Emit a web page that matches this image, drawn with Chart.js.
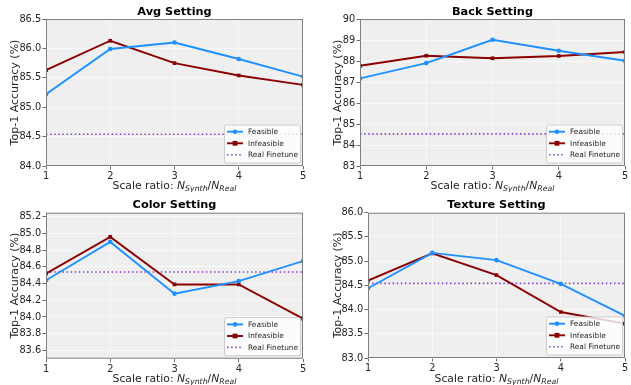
<!DOCTYPE html>
<html>
<head>
<meta charset="utf-8">
<script src="https://cdn.jsdelivr.net/npm/chart.js@4.4.0/dist/chart.umd.min.js"></script>
<style>
  html, body { margin: 0; padding: 0; background: #ffffff; }
  #wrap { position: relative; width: 631px; height: 385px; overflow: hidden; background: #ffffff; }
  canvas { position: absolute; }
</style>
</head>
<body>
<div id="wrap">
  <canvas id="c1" width="315" height="192" style="left:0px;top:0px"></canvas>
  <canvas id="c2" width="316" height="192" style="left:315px;top:0px"></canvas>
  <canvas id="c3" width="315" height="193" style="left:0px;top:192px"></canvas>
  <canvas id="c4" width="316" height="193" style="left:315px;top:192px"></canvas>
</div>
<script>
// ---------------- data ----------------
const ratios = [1, 2, 3, 4, 5];
const seriesNames = ['Feasible', 'Infeasible', 'Real Finetune'];

const avgFeasible   = [85.22, 85.99, 86.10, 85.82, 85.52];
const avgInfeasible = [85.63, 86.13, 85.75, 85.54, 85.38];
const avgReal = 84.54;
const avgTicks = [84.0, 84.5, 85.0, 85.5, 86.0, 86.5];

const backFeasible   = [87.17, 87.90, 89.01, 88.49, 88.01];
const backInfeasible = [87.77, 88.25, 88.13, 88.24, 88.43];
const backReal = 84.53;
const backTicks = [83, 84, 85, 86, 87, 88, 89, 90];

const colorFeasible   = [84.44, 84.90, 84.28, 84.43, 84.67];
const colorInfeasible = [84.52, 84.96, 84.39, 84.39, 83.98];
const colorReal = 84.54;
const colorTicks = [83.6, 83.8, 84.0, 84.2, 84.4, 84.6, 84.8, 85.0, 85.2];

const textureFeasible   = [84.44, 85.17, 85.02, 84.53, 83.87];
const textureInfeasible = [84.60, 85.16, 84.71, 83.95, 83.71];
const textureReal = 84.54;
const textureTicks = [83.0, 83.5, 84.0, 84.5, 85.0, 85.5, 86.0];

// ---------------- style ----------------
const FONT = "'DejaVu Sans', 'Liberation Sans', sans-serif";
const C_FEAS = '#1e90ff';
const C_INF = '#8b0000';
const C_REAL = '#8a3fd1';
const C_SPINE = '#7f7f7f';
const C_TEXT = '#262626';

function pts(arr) { return ratios.map((x, i) => ({ x: x, y: arr[i] })); }

function drawXLabel(ctx, cx, baseline) {
  const parts = [
    { t: 'Scale ratio: ', f: '10.8px ' + FONT, dy: 0 },
    { t: 'N', f: 'italic 10.8px ' + FONT, dy: 0 },
    { t: 'Synth', f: 'italic 7.8px ' + FONT, dy: 2.4 },
    { t: '/', f: '10.8px ' + FONT, dy: 0 },
    { t: 'N', f: 'italic 10.8px ' + FONT, dy: 0 },
    { t: 'Real', f: 'italic 7.8px ' + FONT, dy: 2.4 }
  ];
  let total = 0;
  parts.forEach(p => { ctx.font = p.f; p.w = ctx.measureText(p.t).width; total += p.w; });
  let x = cx - total / 2;
  ctx.fillStyle = C_TEXT;
  ctx.textAlign = 'left';
  ctx.textBaseline = 'alphabetic';
  parts.forEach(p => { ctx.font = p.f; ctx.fillText(p.t, x, baseline + p.dy); x += p.w; });
}

function makeDecor(title, ylabelX, titleY, xlabelBase) {
  return {
    id: 'decor',
    beforeDraw(chart) {
      const a = chart.chartArea, ctx = chart.ctx;
      ctx.save();
      ctx.fillStyle = '#efefef';
      ctx.fillRect(a.left, a.top, a.right - a.left, a.bottom - a.top);
      ctx.restore();
    },
    afterDatasetsDraw(chart) {
      const a = chart.chartArea, ctx = chart.ctx;
      ctx.save();
      // spines
      ctx.strokeStyle = C_SPINE;
      ctx.lineWidth = 1;
      ctx.strokeRect(a.left + 0.5, a.top + 0.5, a.right - a.left - 1, a.bottom - a.top - 1);
      // legend
      const w = 76, h = 38;
      const bx = a.right - 3 - w, by = a.bottom - 3.5 - h;
      ctx.fillStyle = 'rgba(255,255,255,0.8)';
      ctx.strokeStyle = '#cccccc';
      ctx.lineWidth = 1;
      ctx.beginPath();
      if (ctx.roundRect) ctx.roundRect(bx + 0.5, by + 0.5, w, h, 2); else ctx.rect(bx + 0.5, by + 0.5, w, h);
      ctx.fill();
      ctx.stroke();
      const rows = [by + 7.2, by + 18.8, by + 30.2];
      const hx0 = bx + 3, hx1 = bx + 19;
      const dsets = chart.data.datasets;
      rows.forEach((ry, i) => {
        const ds = dsets[i];
        ctx.save();
        ctx.strokeStyle = ds.borderColor;
        ctx.lineWidth = ds.borderWidth;
        ctx.setLineDash(ds.borderDash || []);
        ctx.beginPath();
        ctx.moveTo(hx0, ry);
        ctx.lineTo(hx1, ry);
        ctx.stroke();
        ctx.restore();
        const mx = (hx0 + hx1) / 2;
        ctx.fillStyle = ds.borderColor;
        if (ds.pointStyle === 'circle') {
          ctx.beginPath(); ctx.arc(mx, ry, 2.3, 0, Math.PI * 2); ctx.fill();
        } else if (ds.pointStyle === 'rect') {
          ctx.fillRect(mx - 2.4, ry - 2.4, 4.8, 4.8);
        }
        ctx.fillStyle = C_TEXT;
        ctx.font = '7.4px ' + FONT;
        ctx.textAlign = 'left';
        ctx.textBaseline = 'middle';
        ctx.fillText(seriesNames[i], bx + 24, ry + 0.3);
      });
      ctx.restore();
    },
    afterDraw(chart) {
      const a = chart.chartArea, ctx = chart.ctx;
      ctx.save();
      const cx = (a.left + a.right) / 2;
      // title
      ctx.fillStyle = '#000000';
      ctx.font = 'bold 11.3px ' + FONT;
      ctx.textAlign = 'center';
      ctx.textBaseline = 'middle';
      ctx.fillText(title, cx, titleY);
      // y label
      ctx.save();
      ctx.translate(ylabelX, (a.top + a.bottom) / 2);
      ctx.rotate(-Math.PI / 2);
      ctx.fillStyle = C_TEXT;
      ctx.font = '11px ' + FONT;
      ctx.textAlign = 'center';
      ctx.textBaseline = 'middle';
      ctx.fillText('Top-1 Accuracy (%)', 0, 0);
      ctx.restore();
      // x label
      drawXLabel(ctx, cx, xlabelBase);
      ctx.restore();
    }
  };
}

function makeChart(id, o) {
  const ctx = document.getElementById(id);
  return new Chart(ctx, {
    type: 'line',
    data: {
      datasets: [
        { label: seriesNames[0], data: pts(o.feas), borderColor: C_FEAS, backgroundColor: C_FEAS,
          borderWidth: 1.9, pointStyle: 'circle', pointRadius: 2.3, pointBorderWidth: 0, tension: 0 },
        { label: seriesNames[1], data: pts(o.inf), borderColor: C_INF, backgroundColor: C_INF,
          borderWidth: 1.9, pointStyle: 'rect', pointRadius: 2.6, pointBorderWidth: 0, tension: 0 },
        { label: seriesNames[2], data: [{ x: ratios[0], y: o.real }, { x: ratios[ratios.length - 1], y: o.real }],
          borderColor: C_REAL, backgroundColor: C_REAL, borderWidth: 1.6, borderDash: [1.5, 2.6],
          pointRadius: 0, tension: 0 }
      ]
    },
    options: {
      responsive: false,
      animation: false,
      devicePixelRatio: 1,
      layout: { padding: { top: o.top, right: o.right, bottom: 0, left: 0 } },
      plugins: { legend: { display: false }, title: { display: false }, tooltip: { enabled: false } },
      scales: {
        x: {
          type: 'linear', min: 1, max: 5,
          afterFit: s => { s.height = o.xh; },
          afterBuildTicks: s => { s.ticks = ratios.map(v => ({ value: v })); },
          ticks: { font: { family: FONT, size: 9.8 }, color: C_TEXT, padding: 1.3, maxRotation: 0,
                   callback: v => String(v) },
          grid: { color: 'rgba(255,255,255,0.7)', lineWidth: 0.8, tickColor: '#444444', tickLength: 3.5 },
          border: { display: false }
        },
        y: {
          type: 'linear', min: o.ymin, max: o.ymax,
          afterFit: s => { s.width = o.yw; },
          afterBuildTicks: s => { s.ticks = o.ticks.map(v => ({ value: v })); },
          ticks: { font: { family: FONT, size: 9.8 }, color: C_TEXT, padding: 1.3,
                   callback: v => v.toFixed(o.dec) },
          grid: { color: 'rgba(255,255,255,0.7)', lineWidth: 0.8, tickColor: '#444444', tickLength: 3.5 },
          border: { display: false }
        }
      }
    },
    plugins: [makeDecor(o.title, o.ylx, o.ty, o.xlb)]
  });
}

makeChart('c1', { title: 'Avg Setting', feas: avgFeasible, inf: avgInfeasible, real: avgReal,
  ticks: avgTicks, ymin: 84.0, ymax: 86.5, dec: 1,
  top: 19, right: 12, xh: 26, yw: 46, ylx: 15.5, ty: 12.3, xlb: 188.5 });

makeChart('c2', { title: 'Back Setting', feas: backFeasible, inf: backInfeasible, real: backReal,
  ticks: backTicks, ymin: 83, ymax: 90, dec: 0,
  top: 19, right: 6, xh: 26, yw: 45, ylx: 23, ty: 12.3, xlb: 188.5 });

makeChart('c3', { title: 'Color Setting', feas: colorFeasible, inf: colorInfeasible, real: colorReal,
  ticks: colorTicks, ymin: 83.5, ymax: 85.25, dec: 1,
  top: 20.7, right: 12, xh: 26.3, yw: 46, ylx: 15.5, ty: 13.3, xlb: 190 });

makeChart('c4', { title: 'Texture Setting', feas: textureFeasible, inf: textureInfeasible, real: textureReal,
  ticks: textureTicks, ymin: 83.0, ymax: 86.0, dec: 1,
  top: 20.7, right: 6, xh: 27, yw: 53, ylx: 23, ty: 13.3, xlb: 190 });
</script>
</body>
</html>
